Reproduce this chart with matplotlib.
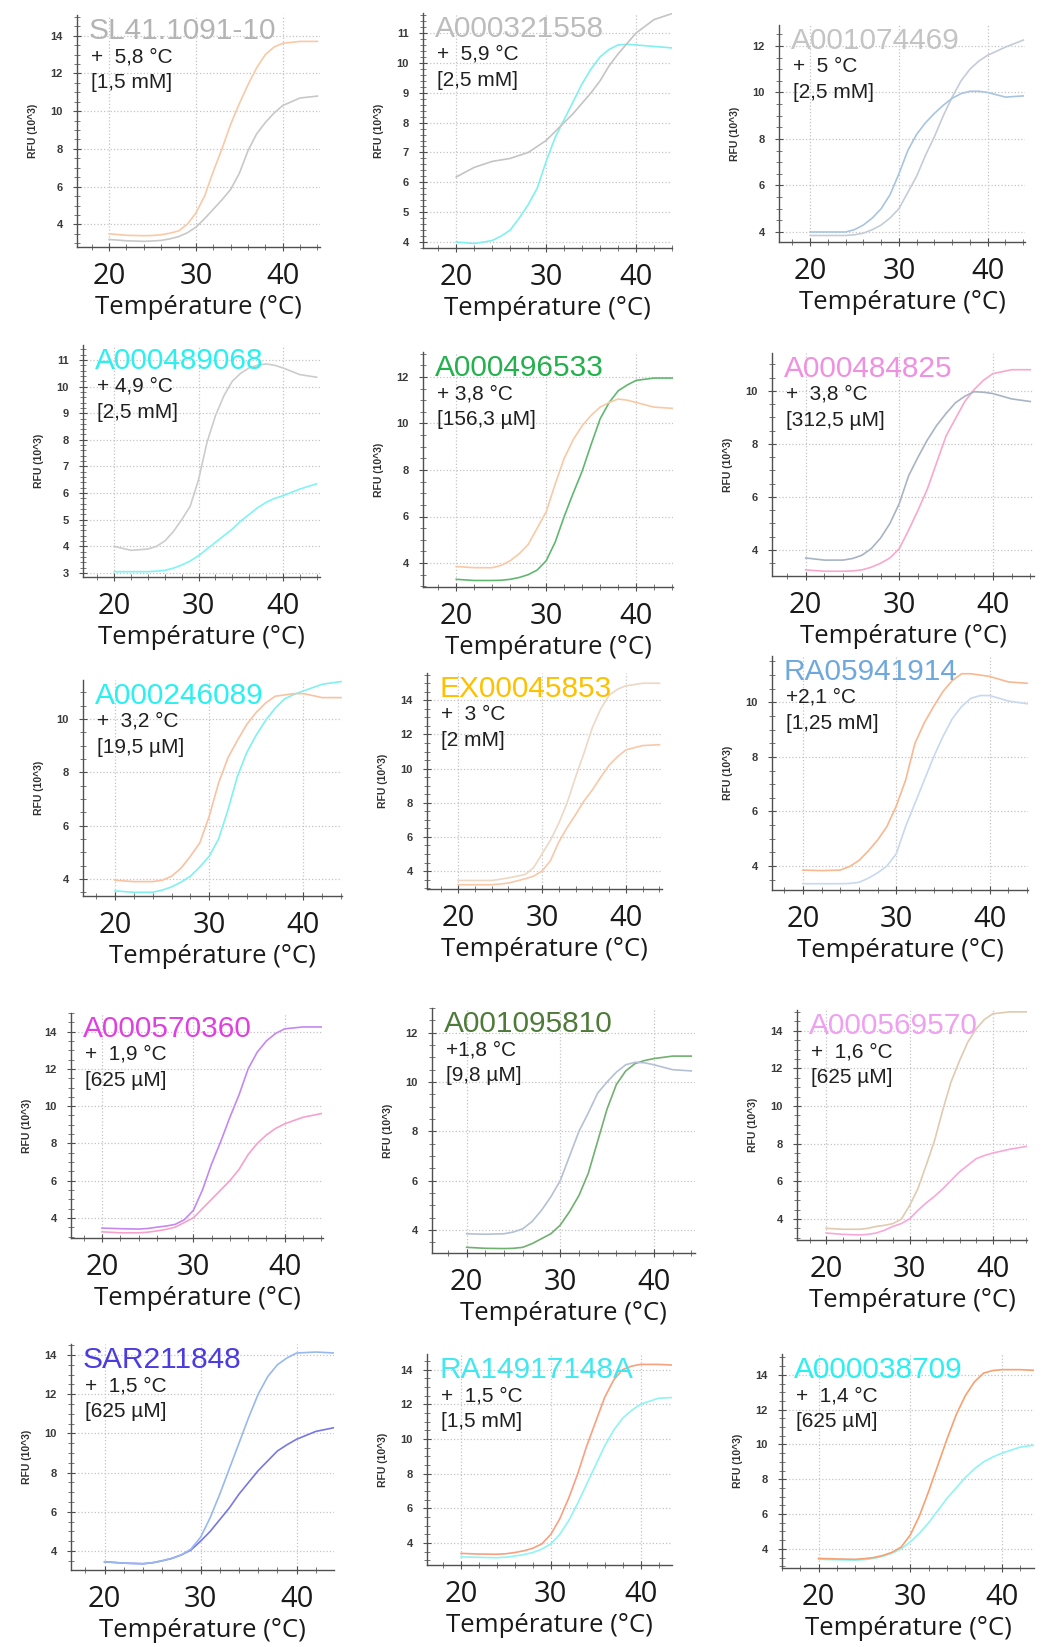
import matplotlib.pyplot as plt
from matplotlib.ticker import MultipleLocator
import math

# Thermal shift curves: temperature (°C) vs RFU (x10^3)
temps = [20, 22, 24, 25, 26, 27, 28, 29, 30, 31, 32, 33, 34, 35, 36, 37, 38, 39, 40, 42, 44]

names = ["SL41.1091-10", "A000321558", "A001074469",
         "A000489068", "A000496533", "A000484825",
         "A000246089", "EX00045853", "RA05941914",
         "A000570360", "A001095810", "A000569570",
         "SAR211848", "RA14917148A", "A000038709"]
shifts = ["+  5,8 °C", "+  5,9 °C", "+  5 °C",
          "+ 4,9 °C", "+ 3,8 °C", "+  3,8 °C",
          "+  3,2 °C", "+  3 °C", "+2,1 °C",
          "+  1,9 °C", "+1,8 °C", "+  1,6 °C",
          "+  1,5 °C", "+  1,5 °C", "+  1,4 °C"]
concs = ["[1,5 mM]", "[2,5 mM]", "[2,5 mM]",
         "[2,5 mM]", "[156,3 µM]", "[312,5 µM]",
         "[19,5 µM]", "[2 mM]", "[1,25 mM]",
         "[625 µM]", "[9,8 µM]", "[625 µM]",
         "[625 µM]", "[1,5 mM]", "[625 µM]"]

rfu_1a = [3.5, 3.42, 3.4, 3.41, 3.45, 3.53, 3.65, 4.0, 4.6, 5.5, 6.8, 8.0, 9.3, 10.4, 11.4, 12.3, 13.0, 13.4, 13.6, 13.7, 13.7]
rfu_1b = [3.2, 3.13, 3.1, 3.12, 3.15, 3.23, 3.35, 3.55, 3.85, 4.3, 4.8, 5.3, 5.85, 6.7, 7.9, 8.8, 9.4, 9.9, 10.3, 10.7, 10.8]
rfu_2a = [6.18, 6.5, 6.7, 6.75, 6.8, 6.9, 7.0, 7.2, 7.4, 7.7, 8.0, 8.3, 8.65, 9.0, 9.4, 9.9, 10.3, 10.65, 11.0, 11.45, 11.65]
rfu_2b = [4.0, 3.95, 4.05, 4.2, 4.4, 4.8, 5.25, 5.8, 6.7, 7.5, 8.1, 8.7, 9.3, 9.8, 10.2, 10.45, 10.6, 10.62, 10.6, 10.55, 10.5]
rfu_3a = [4.0, 4.0, 4.0, 4.1, 4.3, 4.6, 5.0, 5.6, 6.5, 7.5, 8.2, 8.7, 9.1, 9.45, 9.75, 9.95, 10.05, 10.05, 10.0, 9.8, 9.85]
rfu_3b = [3.85, 3.85, 3.85, 3.88, 3.95, 4.1, 4.3, 4.6, 5.0, 5.7, 6.4, 7.3, 8.1, 9.0, 9.8, 10.5, 11.0, 11.35, 11.6, 11.95, 12.25]
rfu_4a = [4.0, 3.85, 3.9, 4.0, 4.2, 4.55, 5.0, 5.5, 6.5, 7.9, 8.9, 9.65, 10.2, 10.5, 10.7, 10.8, 10.85, 10.8, 10.7, 10.45, 10.35]
rfu_4b = [3.05, 3.05, 3.05, 3.07, 3.1, 3.18, 3.3, 3.45, 3.65, 3.9, 4.15, 4.4, 4.65, 4.95, 5.2, 5.45, 5.65, 5.8, 5.9, 6.15, 6.35]
rfu_5a = [3.85, 3.8, 3.8, 3.9, 4.1, 4.4, 4.8, 5.5, 6.2, 7.4, 8.5, 9.3, 9.9, 10.35, 10.7, 10.9, 11.05, 11.0, 10.9, 10.7, 10.65]
rfu_5b = [3.3, 3.25, 3.25, 3.26, 3.3, 3.38, 3.5, 3.7, 4.1, 4.9, 6.0, 7.0, 7.95, 9.1, 10.2, 10.9, 11.4, 11.65, 11.85, 11.95, 11.95]
rfu_6a = [3.7, 3.62, 3.62, 3.68, 3.8, 4.05, 4.45, 5.0, 5.75, 6.8, 7.5, 8.15, 8.7, 9.15, 9.55, 9.8, 9.97, 9.95, 9.9, 9.7, 9.6]
rfu_6b = [3.25, 3.2, 3.2, 3.21, 3.25, 3.35, 3.5, 3.7, 4.05, 4.75, 5.5, 6.3, 7.3, 8.3, 8.95, 9.6, 10.05, 10.4, 10.65, 10.8, 10.8]
rfu_7a = [3.95, 3.9, 3.9, 3.95, 4.1, 4.4, 4.85, 5.35, 6.35, 7.6, 8.55, 9.2, 9.8, 10.25, 10.6, 10.85, 10.9, 10.95, 10.95, 10.8, 10.8]
rfu_7b = [3.55, 3.5, 3.5, 3.58, 3.7, 3.88, 4.1, 4.45, 4.85, 5.5, 6.6, 7.85, 8.75, 9.4, 9.95, 10.4, 10.75, 10.92, 11.05, 11.3, 11.4]
rfu_8a = [3.45, 3.45, 3.45, 3.52, 3.6, 3.7, 3.8, 4.2, 5.0, 5.8, 6.8, 8.0, 9.5, 10.9, 12.4, 13.5, 14.3, 14.65, 14.85, 15.0, 15.0]
rfu_8b = [3.2, 3.2, 3.2, 3.24, 3.3, 3.42, 3.55, 3.7, 4.0, 4.6, 5.7, 6.55, 7.3, 8.1, 8.75, 9.5, 10.2, 10.7, 11.1, 11.35, 11.4]
rfu_9a = [3.85, 3.83, 3.85, 3.98, 4.2, 4.55, 4.95, 5.45, 6.2, 7.15, 8.5, 9.25, 9.85, 10.4, 10.8, 11.05, 11.05, 11.0, 10.95, 10.75, 10.7]
rfu_9b = [3.35, 3.35, 3.35, 3.36, 3.4, 3.55, 3.75, 4.0, 4.45, 5.45, 6.3, 7.15, 8.0, 8.75, 9.4, 9.85, 10.15, 10.25, 10.25, 10.05, 9.95]
rfu_10a = [3.45, 3.42, 3.4, 3.43, 3.5, 3.56, 3.65, 3.9, 4.4, 5.5, 6.9, 8.1, 9.4, 10.6, 12.0, 12.9, 13.5, 13.9, 14.15, 14.25, 14.25]
rfu_10b = [3.25, 3.2, 3.2, 3.23, 3.3, 3.38, 3.5, 3.75, 4.0, 4.5, 5.0, 5.5, 6.0, 6.6, 7.4, 8.0, 8.45, 8.8, 9.05, 9.4, 9.6]
rfu_11a = [3.85, 3.83, 3.85, 3.92, 4.05, 4.35, 4.8, 5.35, 6.0, 7.0, 8.0, 8.75, 9.55, 10.0, 10.4, 10.7, 10.8, 10.78, 10.7, 10.5, 10.45]
rfu_11b = [3.3, 3.26, 3.25, 3.26, 3.3, 3.45, 3.65, 3.85, 4.2, 4.75, 5.4, 6.3, 7.6, 8.9, 9.9, 10.45, 10.75, 10.87, 10.95, 11.05, 11.05]
rfu_12a = [3.5, 3.45, 3.45, 3.5, 3.6, 3.66, 3.75, 3.98, 4.7, 5.6, 6.85, 8.15, 9.8, 11.3, 12.4, 13.4, 14.1, 14.6, 14.9, 15.0, 15.0]
rfu_12b = [3.25, 3.18, 3.15, 3.18, 3.25, 3.4, 3.6, 3.75, 4.0, 4.45, 4.85, 5.2, 5.6, 6.05, 6.5, 6.85, 7.2, 7.37, 7.5, 7.7, 7.85]
rfu_13a = [3.45, 3.38, 3.35, 3.4, 3.5, 3.62, 3.8, 4.1, 4.7, 5.7, 6.9, 8.2, 9.5, 10.8, 12.0, 12.9, 13.5, 13.85, 14.1, 14.15, 14.1]
rfu_13b = [3.45, 3.38, 3.35, 3.4, 3.5, 3.62, 3.8, 4.05, 4.5, 5.0, 5.6, 6.2, 6.9, 7.5, 8.1, 8.6, 9.1, 9.42, 9.7, 10.1, 10.3]
rfu_14a = [3.4, 3.36, 3.35, 3.38, 3.45, 3.55, 3.7, 3.95, 4.5, 5.4, 6.6, 8.0, 9.6, 11.0, 12.4, 13.4, 14.0, 14.2, 14.3, 14.3, 14.25]
rfu_14b = [3.2, 3.17, 3.15, 3.18, 3.25, 3.33, 3.45, 3.65, 3.95, 4.5, 5.3, 6.3, 7.4, 8.5, 9.6, 10.5, 11.2, 11.65, 12.0, 12.35, 12.4]
rfu_15a = [3.45, 3.42, 3.4, 3.44, 3.5, 3.62, 3.8, 4.1, 4.8, 5.9, 7.3, 8.8, 10.3, 11.7, 12.8, 13.6, 14.1, 14.25, 14.3, 14.3, 14.25]
rfu_15b = [3.4, 3.37, 3.35, 3.38, 3.45, 3.57, 3.75, 4.0, 4.4, 4.9, 5.5, 6.2, 6.9, 7.5, 8.1, 8.6, 9.0, 9.28, 9.5, 9.85, 10.0]

curves_a = [rfu_1a, rfu_2a, rfu_3a, rfu_4a, rfu_5a, rfu_6a, rfu_7a, rfu_8a,
            rfu_9a, rfu_10a, rfu_11a, rfu_12a, rfu_13a, rfu_14a, rfu_15a]
curves_b = [rfu_1b, rfu_2b, rfu_3b, rfu_4b, rfu_5b, rfu_6b, rfu_7b, rfu_8b,
            rfu_9b, rfu_10b, rfu_11b, rfu_12b, rfu_13b, rfu_14b, rfu_15b]

# styles
title_cols = ["#b4b4b4", "#bcbcbc", "#c4c4c4",
              "#2af0f0", "#22b14c", "#f090e0",
              "#2af0f0", "#ffc000", "#6fa8dc",
              "#e040e0", "#4e7a3a", "#f0a0f0",
              "#4b3ce0", "#40e8f0", "#2af0f0"]
cols_a = ["#f9c9a5", "#c4c4c4", "#a8c4e0", "#cccccc", "#f9c9a5",
          "#a8b4c4", "#f9c2a0", "#ecd8c4", "#f8b890", "#c488f0",
          "#b4c0d4", "#e0cab0", "#98b8f0", "#f8a080", "#f8a070"]
cols_b = ["#c8c8c8", "#80f0f0", "#c4ccd8", "#80f4f4", "#60b870",
          "#f8a8cc", "#80f0f0", "#f8c8a8", "#c8d8f0", "#f8a0cc",
          "#70b070", "#f8a8d8", "#7878e0", "#90f4f4", "#90f4f4"]

# axes boxes in pixels: left, top, right, bottom
rects = [(77, 15, 320, 247), (423, 13, 672, 248), (779, 25, 1025, 242),
         (83, 345, 320, 577), (423, 352, 673, 587), (772, 353, 1034, 576),
         (83, 680, 342, 896), (427, 673, 662, 889), (772, 656, 1028, 890),
         (71, 1013, 323, 1238), (432, 1008, 695, 1253), (797, 1010, 1027, 1240),
         (71, 1344, 334, 1570), (427, 1354, 672, 1565), (782, 1354, 1034, 1568)]
xlims = [(16.3, 44.3), (16.3, 44.0), (16.5, 44.2),
         (16.3, 44.4), (16.3, 44.1), (16.4, 44.4),
         (16.6, 44.1), (16.3, 44.3), (16.7, 44.1),
         (16.6, 44.2), (16.3, 44.4), (16.5, 44.1),
         (16.5, 43.9), (16.2, 43.5), (16.0, 43.5)]
ylims = [(2.8, 15.1), (3.8, 11.67), (3.57, 12.9),
         (2.85, 11.56), (2.97, 13.07), (3.02, 11.43),
         (3.36, 11.46), (2.95, 15.6), (3.12, 11.7),
         (2.92, 15.0), (3.07, 13.0), (2.88, 15.1),
         (3.03, 14.56), (2.73, 14.9), (2.9, 15.2)]
ysteps = [2, 1, 2, 1, 2, 2, 2, 2, 2, 2, 2, 2, 2, 2, 2]

W, H = 1052, 1647
fig = plt.figure(figsize=(W / 100, H / 100), dpi=100)

for i in range(15):
    l, t, r, b = rects[i]
    ax = fig.add_axes([l / W, 1 - b / H, (r - l) / W, (b - t) / H])
    ax.plot(temps, curves_b[i], color=cols_b[i], lw=1.2, solid_joinstyle='round')
    ax.plot(temps, curves_a[i], color=cols_a[i], lw=1.2, solid_joinstyle='round')
    ax.set_xlim(xlims[i])
    ax.set_ylim(ylims[i])

    step = ysteps[i]
    y0 = math.ceil(ylims[i][0] / step) * step
    y1 = math.floor(ylims[i][1] / step) * step
    yt = list(range(y0, y1 + 1, step))
    ax.set_yticks(yt, [str(v) for v in yt], fontsize=8, fontweight='bold',
                  color='#3a3a3a', family='Liberation Sans')
    ax.yaxis.set_minor_locator(MultipleLocator(0.5 if step == 2 else 0.2))
    ax.set_xticks([20, 30, 40], ['20', '30', '40'], fontsize=21,
                  family='Open Sans', color='#1a1a1a')
    ax.xaxis.set_minor_locator(MultipleLocator(2))

    ax.grid(True, which='major', linestyle=':', color='#c4c4c4', lw=0.9)
    ax.set_axisbelow(True)
    for s in ['top', 'right']:
        ax.spines[s].set_visible(False)
    for s in ['left', 'bottom']:
        ax.spines[s].set_color('#505050')
        ax.spines[s].set_linewidth(1.0)
    ax.tick_params(axis='x', which='major', direction='inout', length=6,
                   color='#505050', pad=8)
    ax.tick_params(axis='y', which='major', direction='inout', length=6,
                   color='#505050', pad=7)
    ax.tick_params(axis='both', which='minor', direction='inout', length=4,
                   color='#606060')

    ax.set_xlabel('Température (°C)', fontsize=18.5, family='Open Sans',
                  color='#1a1a1a', labelpad=3)
    ax.set_ylabel('RFU (10^3)', fontsize=7.5, fontweight='bold',
                  family='Liberation Sans', color='#303030', labelpad=9)

    ax.annotate(names[i], xy=(0, 1), xycoords='axes fraction',
                xytext=(12, -2), textcoords='offset pixels', va='top',
                fontsize=21.5, family='Liberation Sans', color=title_cols[i])
    ax.annotate(shifts[i], xy=(0, 1), xycoords='axes fraction',
                xytext=(14, -32), textcoords='offset pixels', va='top',
                fontsize=15, family='Liberation Sans', color='#202020')
    ax.annotate(concs[i], xy=(0, 1), xycoords='axes fraction',
                xytext=(14, -58), textcoords='offset pixels', va='top',
                fontsize=15, family='Liberation Sans', color='#202020')

fig.savefig('out.png', dpi=100, facecolor='white')
